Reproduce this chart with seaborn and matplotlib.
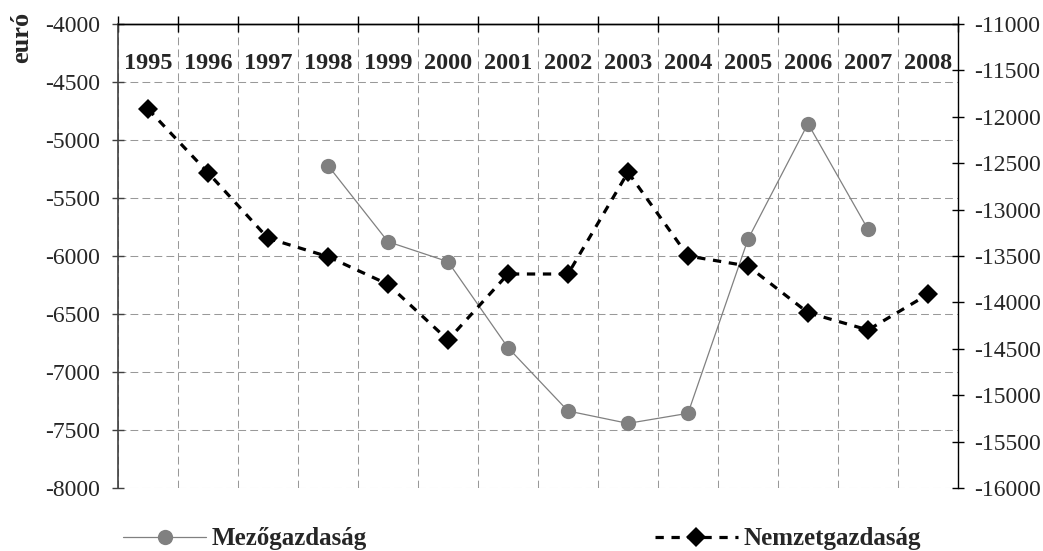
import matplotlib
matplotlib.use("Agg")
import matplotlib.pyplot as plt
import seaborn as sns
import pandas as pd
import numpy as np

years = ["1995", "1996", "1997", "1998", "1999", "2000", "2001",
         "2002", "2003", "2004", "2005", "2006", "2007", "2008"]
mezo = [np.nan, np.nan, np.nan, -5220, -5877, -6049, -6790,
        -7336, -7443, -7356, -5856, -4859, -5770, np.nan]
nemzet = [-11916, -12602, -13309, -13507, -13805, -14405, -13694,
          -13694, -12598, -13500, -13608, -14111, -14297, -13913]
left_ticks = [-8000, -7500, -7000, -6500, -6000, -5500, -5000, -4500, -4000]
right_ticks = [-16000, -15500, -15000, -14500, -14000, -13500, -13000,
               -12500, -12000, -11500, -11000]
label_mezo = "Mezőgazdaság"
label_nemzet = "Nemzetgazdaság"
ylabel = "euró"

sns.set_style("white")
plt.rcParams["font.family"] = ["Liberation Serif", "DejaVu Serif"]

W, H = 1043, 551
fig = plt.figure(figsize=(W / 100, H / 100), dpi=100)
L, R, T, B = 118, 958, 24, 488
ax = fig.add_axes([L / W, 1 - B / H, (R - L) / W, (B - T) / H])
ax2 = ax.twinx()

pos = np.arange(len(years))
df1 = pd.DataFrame({"x": pos, "y": mezo}).dropna()
df2 = pd.DataFrame({"x": pos, "y": nemzet})

sns.lineplot(data=df1, x="x", y="y", ax=ax, color="#808080", lw=0.9,
             marker="o", markersize=11, markeredgewidth=0,
             markerfacecolor="#808080", label=label_mezo, legend=False)
sns.lineplot(data=df2, x="x", y="y", ax=ax2, color="black", lw=2.3,
             linestyle=(0, (2.6, 2.4)), marker="D", markersize=10,
             markeredgewidth=0, markerfacecolor="black",
             label=label_nemzet, legend=False)

ax.set_xlim(-0.5, len(years) - 0.5)
ax.set_ylim(-8000, -4000)
ax2.set_ylim(-16000, -11000)

# x axis: boundaries as major ticks (top), labels at centres (minor)
ax.set_xticks(np.arange(-0.5, len(years), 1.0))
ax.set_xticklabels([])
ax.set_xticks(pos, minor=True)
ax.set_xticklabels(years, minor=True, fontsize=17.5, fontweight="bold")
ax.tick_params(axis="x", which="major", top=True, bottom=False,
               labeltop=False, labelbottom=False, direction="inout",
               length=11, width=1, color="black")
ax.tick_params(axis="x", which="minor", top=True, bottom=False,
               labeltop=True, labelbottom=False, length=0, pad=-36)

ax.set_yticks(left_ticks)
ax.set_yticklabels([str(v) for v in left_ticks], fontsize=17)
ax.tick_params(axis="y", direction="inout", length=8, width=1,
               color="#404040", pad=9, left=True)
ax2.set_yticks(right_ticks)
ax2.set_yticklabels([str(v) for v in right_ticks], fontsize=17)
ax2.tick_params(axis="y", direction="inout", length=8, width=1,
                color="black", pad=7.5, right=True)

ax.grid(True, which="major", axis="both", color="#999999", lw=0.75,
        linestyle=(0, (7.5, 4)))
ax.set_xlabel("")
ax.set_ylabel("")
ax2.set_ylabel("")

for a in (ax, ax2):
    a.spines["bottom"].set_visible(False)
    a.spines["top"].set_color("black")
    a.spines["top"].set_linewidth(1)
ax.spines["left"].set_color("#404040")
ax.spines["left"].set_linewidth(1.2)
ax.spines["right"].set_visible(False)
ax2.spines["left"].set_visible(False)
ax2.spines["right"].set_color("black")
ax2.spines["right"].set_linewidth(1)

fig.text(22 / W, 1 - 37 / H, ylabel, rotation=90, ha="center",
         va="center", fontsize=19, fontweight="bold")

h1, l1 = ax.get_legend_handles_labels()
h2, l2 = ax2.get_legend_handles_labels()
fig.legend(h1 + h2, l1 + l2, loc="center left",
           bbox_to_anchor=(123 / W, 1 - 539 / H), ncol=2, frameon=False,
           prop={"size": 18, "weight": "bold"}, handlelength=3.32,
           handletextpad=0.24, columnspacing=11.5, borderpad=0,
           borderaxespad=0)

fig.savefig("out.png", dpi=100)
